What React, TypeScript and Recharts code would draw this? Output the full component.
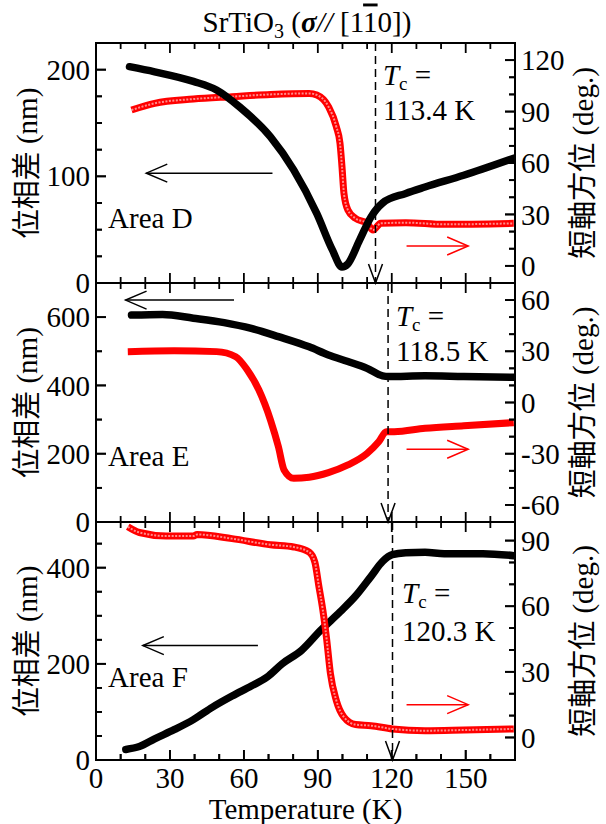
import React from 'react';
import { ComposedChart, Line, XAxis, YAxis, ReferenceLine, ReferenceDot } from 'recharts';

const FONT = "Liberation Serif, Times New Roman, Noto Sans CJK JP, serif";
const FS = 29;

// ---------- shared temperature axis ----------
const tempTicks = [0, 10, 20, 30, 40, 50, 60, 70, 80, 90, 100, 110, 120, 130, 140, 150, 160, 170];
const tempLabels = [0, 30, 60, 90, 120, 150];
const tempDomain: [number, number] = [0, 170];

// ---------- Area D ----------
const dBlackT = [13.6, 23.8, 39.5, 48.9, 58.3, 70.8, 80.2, 89.6, 95.9, 99.8, 102.2, 106.9, 111.6, 116.3, 125.7, 133.5, 149.2, 169.5];
const dBlackV = [202.8, 198, 189, 181, 165, 137, 106, 65, 31, 15, 18, 40, 62, 75, 84, 90, 101, 117];
const dRedT = [14.4, 23.8, 39.5, 55.2, 70.8, 86.5, 89.6, 94.3, 97.5, 99, 99.8, 100.6, 102.2, 105.3, 110, 112.4, 115.5, 125.7, 141.3, 169.5];
const dRedV = [90.9, 94.8, 97.3, 98.7, 100, 100.6, 99.7, 92.9, 81.2, 71.5, 57.9, 42.3, 32.6, 27.7, 24.8, 20.9, 24.8, 25.2, 24.2, 24.8];

// ---------- Area E ----------
const eBlackT = [14.4, 27, 39.5, 52, 63, 74, 86.5, 94.3, 102.2, 110, 116.3, 118.6, 133.5, 149.2, 169.5];
const eBlackV = [606, 608, 597, 584, 567, 543, 513, 489, 470, 450, 428, 426, 428, 426, 424];
const eRedT = [12.9, 31.7, 48.9, 56.7, 61.4, 66.1, 70.8, 74, 76.3, 80.2, 86.5, 94.3, 102.2, 110, 114.7, 117.8, 121, 133.5, 149.2, 169.5];
const eRedV = [29.8, 30.3, 29.8, 26.8, 19, 7.3, -10.3, -25.9, -39.5, -44.4, -43.8, -41.1, -36.6, -29.8, -23, -17.1, -17.1, -15.1, -13.6, -11.8];

// ---------- Area F ----------
const fBlackT = [12.1, 17.6, 23.8, 31.7, 39.5, 47.3, 55.2, 63, 69.3, 75.5, 83.4, 91.2, 99, 105.3, 111.6, 116.3, 120.2, 125.7, 133.5, 141.3, 157, 169.5];
const fBlackV = [22, 28, 44, 63, 84, 110, 133, 154, 172, 200, 228, 270, 308, 341, 382, 413, 427, 431, 432, 429, 429, 425];
const fRedT = [12.9, 17.6, 28.5, 39.5, 41, 55.2, 70.8, 80.2, 86.5, 88.8, 90.4, 92, 93.6, 95.1, 97.5, 100.6, 105.3, 111.6, 120.2, 133.5, 149.2, 169.5];
const fRedV = [96.3, 93.7, 92.1, 92.1, 92.8, 90.9, 88.1, 87.1, 84.7, 80.1, 69.3, 58.5, 44.7, 29.3, 16.9, 9.3, 5.9, 5.4, 3.9, 3.1, 3.4, 3.9];

// ---------- axis ticks ----------
const dLeftTicks = [0, 25, 50, 75, 100, 125, 150, 175, 200];
const dLeftMajor = [0, 100, 200];
const dRightTicks = [0, 10, 20, 30, 40, 50, 60, 70, 80, 90, 100, 110, 120];
const dRightMajor = [0, 30, 60, 90, 120];
const eLeftTicks = [0, 100, 200, 300, 400, 500, 600];
const eLeftMajor = [0, 200, 400, 600];
const eRightTicks = [-60, -50, -40, -30, -20, -10, 0, 10, 20, 30, 40, 50, 60];
const eRightMajor = [-60, -30, 0, 30, 60];
const fLeftTicks = [0, 50, 100, 150, 200, 250, 300, 350, 400, 450];
const fLeftMajor = [0, 200, 400];
const fRightTicks = [0, 10, 20, 30, 40, 50, 60, 70, 80, 90];
const fRightMajor = [0, 30, 60, 90];

// ---------- annotations ----------
const tcValues = [113.4, 118.5, 120.3];
const tcTexts = ['113.4 K', '118.5 K', '120.3 K'];
const areaNames = ['Area D', 'Area E', 'Area F'];

type Pt = { t: number; v: number };
const zip = (ts: number[], vs: number[]): Pt[] => ts.map((t, i) => ({ t, v: vs[i] }));

// layout constants (pixels)
const PLOT_W = 419;
const MAJOR_LEN = 10;
const MINOR_LEN = 6;
const TICK_W = 1.8;

const xTick = (dir: number, showLabels: boolean) => (props: any) => {
  const x = Number(props.x);
  const y = Number(props.y);
  const v = Number(props.payload.value);
  const major = tempLabels.includes(v);
  const len = major ? MAJOR_LEN : MINOR_LEN;
  const edge = v <= tempDomain[0] || v >= tempDomain[1];
  const y0 = dir < 0 ? y - len : y;
  return (
    <g>
      {!edge && <rect x={x - TICK_W / 2} y={y0} width={TICK_W} height={len} fill="#000" />}
      {showLabels && major && (
        <text x={x} y={y + 28} textAnchor="middle" fontSize={FS} fontFamily={FONT} fill="#000">
          {String(v)}
        </text>
      )}
    </g>
  );
};

const yTick = (side: 'left' | 'right', majors: number[]) => (props: any) => {
  const x = Number(props.x);
  const y = Number(props.y);
  const v = Number(props.payload.value);
  const major = majors.includes(v);
  const len = major ? MAJOR_LEN : MINOR_LEN;
  const dir = side === 'left' ? 1 : -1;
  const x0 = dir > 0 ? x : x - len;
  return (
    <g>
      <rect x={x0} y={y - TICK_W / 2} width={len} height={TICK_W} fill="#000" />
      {major && (
        <text
          x={x - dir * 6}
          y={y}
          dy="0.35em"
          textAnchor={side === 'left' ? 'end' : 'start'}
          fontSize={FS}
          fontFamily={FONT}
          fill="#000"
        >
          {String(v)}
        </text>
      )}
    </g>
  );
};

const leftTitle = (props: any) => {
  const vb = props.viewBox;
  const cx = vb.x + 27;
  const cy = vb.y + vb.height / 2;
  return (
    <text x={cx} y={cy} dy="0.35em" textAnchor="middle" transform={`rotate(-90 ${cx} ${cy})`} fontSize={FS} fontFamily={FONT} fill="#000">
      位相差 (nm)
    </text>
  );
};

const rightTitle = (props: any) => {
  const vb = props.viewBox;
  const cx = vb.x + 68;
  const cy = vb.y + vb.height / 2;
  return (
    <text x={cx} y={cy} dy="0.35em" textAnchor="middle" transform={`rotate(-90 ${cx} ${cy})`} fontSize={FS} fontFamily={FONT} fill="#000">
      短軸方位 (deg.)
    </text>
  );
};

const xTitle = (props: any) => {
  const vb = props.viewBox;
  return (
    <text x={vb.x + vb.width / 2} y={vb.y + 59} textAnchor="middle" fontSize={FS} fontFamily={FONT} fill="#000">
      Temperature (K)
    </text>
  );
};

const plainLine = (stroke: string, width: number, cap: string) => (s: any) => (
  <line x1={s.x1} y1={s.y1} x2={s.x2} y2={s.y2} stroke={stroke} strokeWidth={width} strokeLinecap={cap as any} />
);

interface PanelProps {
  chartTop: number;
  chartH: number;
  top: number;
  bottom: number;
  showX: boolean;
  leftDomain: [number, number];
  leftTicks: number[];
  leftMajor: number[];
  rightDomain: [number, number];
  rightTicks: number[];
  rightMajor: number[];
  black: Pt[];
  red: Pt[];
  redHollow: boolean;
  redOnTop: boolean;
  tc: number;
  tcText: string;
  tcAt: [number, number, number];
  area: string;
  areaAt: [number, number];
  blackArrow: [number, number, number];
  redArrow: [number, number, number];
}

const Panel = (p: PanelProps) => {
  const xH = p.showX ? 64 : 0;
  const plotH = p.bottom - p.top;
  const [l0, l1] = p.leftDomain;
  const [r0, r1] = p.rightDomain;
  const perPxY = (l1 - l0) / plotH;
  const perPxT = (tempDomain[1] - tempDomain[0]) / PLOT_W;

  // tick marks as reference segments (in addition to the axis tick renderers)
  const tickLines: React.ReactNode[] = [];
  tempTicks
    .filter((t) => t > tempDomain[0] && t < tempDomain[1])
    .forEach((t) => {
      const len = (tempLabels.includes(t) ? MAJOR_LEN : MINOR_LEN) * perPxY;
      tickLines.push(
        <ReferenceLine key={`xb${t}`} xAxisId="b" yAxisId="l" ifOverflow="visible" segment={[{ x: t, y: l0 }, { x: t, y: l0 + len }]} shape={plainLine('#000', TICK_W, 'butt')} />,
        <ReferenceLine key={`xt${t}`} xAxisId="b" yAxisId="l" ifOverflow="visible" segment={[{ x: t, y: l1 }, { x: t, y: l1 - len }]} shape={plainLine('#000', TICK_W, 'butt')} />
      );
    });
  p.leftTicks
    .filter((v) => v > l0 && v < l1)
    .forEach((v) => {
      const len = (p.leftMajor.includes(v) ? MAJOR_LEN : MINOR_LEN) * perPxT;
      tickLines.push(
        <ReferenceLine key={`yl${v}`} xAxisId="b" yAxisId="l" ifOverflow="visible" segment={[{ x: tempDomain[0], y: v }, { x: tempDomain[0] + len, y: v }]} shape={plainLine('#000', TICK_W, 'butt')} />
      );
    });
  p.rightTicks
    .filter((v) => v > r0 && v < r1)
    .forEach((v) => {
      const len = (p.rightMajor.includes(v) ? MAJOR_LEN : MINOR_LEN) * perPxT;
      tickLines.push(
        <ReferenceLine key={`yr${v}`} xAxisId="t" yAxisId="r" ifOverflow="visible" segment={[{ x: tempDomain[1], y: v }, { x: tempDomain[1] - len, y: v }]} shape={plainLine('#000', TICK_W, 'butt')} />
      );
    });

  const frame = [
    <ReferenceLine key="fb" xAxisId="b" yAxisId="l" ifOverflow="visible" segment={[{ x: tempDomain[0], y: l0 }, { x: tempDomain[1], y: l0 }]} shape={plainLine('#000', 2, 'square')} />,
    <ReferenceLine key="ft" xAxisId="b" yAxisId="l" ifOverflow="visible" segment={[{ x: tempDomain[0], y: l1 }, { x: tempDomain[1], y: l1 }]} shape={plainLine('#000', 2, 'square')} />,
    <ReferenceLine key="fl" xAxisId="b" yAxisId="l" ifOverflow="visible" segment={[{ x: tempDomain[0], y: l0 }, { x: tempDomain[0], y: l1 }]} shape={plainLine('#000', 2, 'square')} />,
    <ReferenceLine key="fr" xAxisId="b" yAxisId="l" ifOverflow="visible" segment={[{ x: tempDomain[1], y: l0 }, { x: tempDomain[1], y: l1 }]} shape={plainLine('#000', 2, 'square')} />,
  ];

  const redLines = [
    <Line key="red" xAxisId="t" yAxisId="r" data={p.red} dataKey="v" type="monotone" stroke="#ff0000" strokeWidth={7} dot={false} isAnimationActive={false} />,
    p.redHollow ? (
      <Line
        key="redin"
        xAxisId="t"
        yAxisId="r"
        data={p.red}
        dataKey="v"
        type="monotone"
        stroke="#ffffff"
        strokeOpacity={0.55}
        strokeWidth={2}
        strokeDasharray="2 1.5"
        dot={false}
        isAnimationActive={false}
      />
    ) : null,
  ];
  const blackLine = (
    <Line key="black" xAxisId="b" yAxisId="l" data={p.black} dataKey="v" type="monotone" stroke="#000" strokeWidth={7.5} strokeLinecap="round" dot={false} isAnimationActive={false} />
  );
  return (
    <div style={{ position: 'absolute', left: 0, top: p.chartTop, overflow: 'visible' }}>
      <ComposedChart
        width={606}
        height={p.chartH}
        margin={{ top: p.top - p.chartTop, right: 0, left: 0, bottom: p.chartTop + p.chartH - p.bottom - xH }}
        style={{ overflow: 'visible' }}
      >
        <XAxis
          xAxisId="b"
          dataKey="t"
          type="number"
          domain={tempDomain}
          ticks={tempTicks}
          interval={0}
          allowDataOverflow
          height={xH}
          tickSize={0}
          tickMargin={0}
          tickLine={false}
          axisLine={false}
          tick={xTick(-1, p.showX)}
          label={p.showX ? xTitle : undefined}
        />
        <XAxis
          xAxisId="t"
          orientation="top"
          dataKey="t"
          type="number"
          domain={tempDomain}
          ticks={tempTicks}
          interval={0}
          allowDataOverflow
          height={0}
          tickSize={0}
          tickMargin={0}
          tickLine={false}
          axisLine={false}
          tick={xTick(1, false)}
        />
        <YAxis
          yAxisId="l"
          orientation="left"
          type="number"
          domain={p.leftDomain}
          ticks={p.leftTicks}
          interval={0}
          allowDataOverflow
          width={96}
          tickSize={0}
          tickMargin={0}
          tickLine={false}
          axisLine={false}
          tick={yTick('left', p.leftMajor)}
          label={leftTitle}
        />
        <YAxis
          yAxisId="r"
          orientation="right"
          type="number"
          domain={p.rightDomain}
          ticks={p.rightTicks}
          interval={0}
          allowDataOverflow
          width={91}
          tickSize={0}
          tickMargin={0}
          tickLine={false}
          axisLine={false}
          tick={yTick('right', p.rightMajor)}
          label={rightTitle}
        />
        {p.redOnTop ? blackLine : redLines}
        {p.redOnTop ? redLines : blackLine}
        {tickLines}
        {frame}
        <ReferenceLine
          xAxisId="b"
          yAxisId="l"
          ifOverflow="visible"
          segment={[
            { x: p.tc, y: l1 },
            { x: p.tc, y: l0 },
          ]}
          shape={(s: any) => (
            <line x1={s.x1} y1={s.y1} x2={s.x2} y2={s.y2} stroke="#000" strokeWidth={1.5} strokeDasharray="8 5" markerEnd="url(#ahDash)" />
          )}
        />
        <ReferenceLine
          xAxisId="b"
          yAxisId="l"
          ifOverflow="visible"
          segment={[
            { x: p.blackArrow[0], y: p.blackArrow[2] },
            { x: p.blackArrow[1], y: p.blackArrow[2] },
          ]}
          shape={(s: any) => (
            <line x1={s.x1} y1={s.y1} x2={s.x2} y2={s.y2} stroke="#000" strokeWidth={1.5} markerEnd="url(#ahBlack)" />
          )}
        />
        <ReferenceLine
          xAxisId="t"
          yAxisId="r"
          ifOverflow="visible"
          segment={[
            { x: p.redArrow[0], y: p.redArrow[2] },
            { x: p.redArrow[1], y: p.redArrow[2] },
          ]}
          shape={(s: any) => (
            <line x1={s.x1} y1={s.y1} x2={s.x2} y2={s.y2} stroke="#ff0000" strokeWidth={1.5} markerEnd="url(#ahRed)" />
          )}
        />
        <ReferenceDot
          xAxisId="b"
          yAxisId="l"
          x={p.tcAt[0]}
          y={p.tcAt[1]}
          r={0}
          ifOverflow="visible"
          shape={(s: any) => (
            <text x={s.cx} y={s.cy} fontSize={FS} fontFamily={FONT} fill="#000">
              <tspan fontStyle="italic">T</tspan>
              <tspan fontSize={19} dy={5}>c</tspan>
              <tspan dy={-5}> =</tspan>
            </text>
          )}
        />
        <ReferenceDot
          xAxisId="b"
          yAxisId="l"
          x={p.tcAt[0]}
          y={p.tcAt[2]}
          r={0}
          ifOverflow="visible"
          shape={(s: any) => (
            <text x={s.cx} y={s.cy} fontSize={FS} fontFamily={FONT} fill="#000">
              {p.tcText}
            </text>
          )}
        />
        <ReferenceDot
          xAxisId="b"
          yAxisId="l"
          x={p.areaAt[0]}
          y={p.areaAt[1]}
          r={0}
          ifOverflow="visible"
          shape={(s: any) => (
            <text x={s.cx} y={s.cy} fontSize={FS} fontFamily={FONT} fill="#000">
              {p.area}
            </text>
          )}
        />
      </ComposedChart>
    </div>
  );
};

export default function App() {
  return (
    <div style={{ position: 'absolute', left: 0, top: 0, width: 606, height: 824, background: '#fff' }}>
      <style>{'.recharts-surface{overflow:visible}.recharts-wrapper{overflow:visible}'}</style>
      <svg width={0} height={0} style={{ position: 'absolute' }}>
        <defs>
          <marker id="ahBlack" viewBox="-24 -12 27 24" markerWidth={27} markerHeight={24} refX={0} refY={0} orient="auto" markerUnits="userSpaceOnUse">
            <path d="M -21 -9 L 0 0 L -21 9" fill="none" stroke="#000" strokeWidth={1.5} />
          </marker>
          <marker id="ahRed" viewBox="-24 -12 27 24" markerWidth={27} markerHeight={24} refX={0} refY={0} orient="auto" markerUnits="userSpaceOnUse">
            <path d="M -21 -9 L 0 0 L -21 9" fill="none" stroke="#ff0000" strokeWidth={1.5} />
          </marker>
          <marker id="ahDash" viewBox="-22 -10 25 20" markerWidth={25} markerHeight={20} refX={0} refY={0} orient="auto" markerUnits="userSpaceOnUse">
            <path d="M -19 -7 L 0 0 L -19 7" fill="none" stroke="#000" strokeWidth={1.5} />
          </marker>
        </defs>
      </svg>
      <svg width={606} height={43} style={{ position: 'absolute', left: 0, top: 0 }}>
        <text x={307} y={31.5} textAnchor="middle" fontSize={FS} fontFamily={FONT} fill="#000">
          SrTiO
          <tspan fontSize={20} dy={6}>3</tspan>
          <tspan dy={-6}> (</tspan>
          <tspan fontWeight="bold" fontStyle="italic">σ</tspan>
          <tspan fontStyle="italic">//</tspan>
          <tspan> [1</tspan>
          <tspan style={{ textDecoration: 'overline' }}>1</tspan>
          <tspan>0])</tspan>
        </text>
      </svg>
      <Panel
        chartTop={0}
        chartH={283}
        top={43}
        bottom={283}
        showX={false}
        leftDomain={[0, 225]}
        leftTicks={dLeftTicks}
        leftMajor={dLeftMajor}
        rightDomain={[-10, 130]}
        rightTicks={dRightTicks}
        rightMajor={dRightMajor}
        black={zip(dBlackT, dBlackV)}
        red={zip(dRedT, dRedV)}
        redHollow={true}
        redOnTop={false}
        tc={tcValues[0]}
        tcText={tcTexts[0]}
        tcAt={[116.4, 185.6, 152.8]}
        area={areaNames[0]}
        areaAt={[4.9, 51.6]}
        blackArrow={[71.6, 20.4, 103]}
        redArrow={[126, 151, 11.6]}
      />
      <Panel
        chartTop={283}
        chartH={239}
        top={283}
        bottom={522}
        showX={false}
        leftDomain={[0, 700]}
        leftTicks={eLeftTicks}
        leftMajor={eLeftMajor}
        rightDomain={[-70, 70]}
        rightTicks={eRightTicks}
        rightMajor={eRightMajor}
        black={zip(eBlackT, eBlackV)}
        red={zip(eRedT, eRedV)}
        redHollow={false}
        redOnTop={true}
        tc={tcValues[1]}
        tcText={tcTexts[1]}
        tcAt={[121.7, 574, 471.5]}
        area={areaNames[1]}
        areaAt={[4.9, 164]}
        blackArrow={[56, 12, 650]}
        redArrow={[126, 151, -27.4]}
      />
      <Panel
        chartTop={522}
        chartH={302}
        top={522}
        bottom={760}
        showX={true}
        leftDomain={[0, 495]}
        leftTicks={fLeftTicks}
        leftMajor={fLeftMajor}
        rightDomain={[-10.3, 98.5]}
        rightTicks={fRightTicks}
        rightMajor={fRightMajor}
        black={zip(fBlackT, fBlackV)}
        red={zip(fRedT, fRedV)}
        redHollow={true}
        redOnTop={true}
        tc={tcValues[2]}
        tcText={tcTexts[2]}
        tcAt={[124.2, 325.6, 247.9]}
        area={areaNames[2]}
        areaAt={[4.9, 151.3]}
        blackArrow={[65.7, 19, 238]}
        redArrow={[126, 151, 15]}
      />
    </div>
  );
}
